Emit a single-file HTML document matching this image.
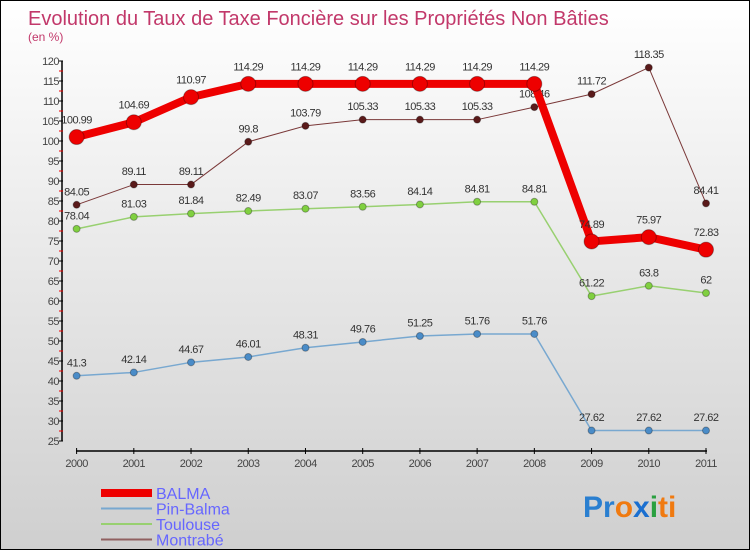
<!DOCTYPE html>
<html><head><meta charset="utf-8"><style>
body{margin:0;}
#c{width:750px;height:550px;position:relative;overflow:hidden;box-sizing:border-box;border:1px solid #000;background:linear-gradient(#ffffff,#cfcfcf);font-family:"Liberation Sans",sans-serif;}
</style></head><body>
<div id="c">
<svg id="s" width="750" height="550" style="position:absolute;left:0;top:0">
<text x="27" y="24" font-size="20" fill="#c2386a">Evolution du Taux de Taxe Foncière sur les Propriétés Non Bâties</text>
<text x="27" y="40" font-size="12" fill="#c2386a">(en %)</text>
<g id="ax"></g><g id="series"></g><g id="legend"></g>
<text x="582" y="516" font-size="30" font-weight="bold"><tspan fill="#2a7fd0">Pr</tspan><tspan fill="#f07a10">o</tspan><tspan fill="#1a6fd0">x</tspan><tspan fill="#2aa040">i</tspan><tspan fill="#f07a10">ti</tspan></text>
</svg>
</div>
<script>
const years=["2000","2001","2002","2003","2004","2005","2006","2007","2008","2009","2010","2011"];
const yTicks=[25,30,35,40,45,50,55,60,65,70,75,80,85,90,95,100,105,110,115,120];
const balma=[100.99,104.69,110.97,114.29,114.29,114.29,114.29,114.29,114.29,74.89,75.97,72.83];
const pinBalma=[41.3,42.14,44.67,46.01,48.31,49.76,51.25,51.76,51.76,27.62,27.62,27.62];
const toulouse=[78.04,81.03,81.84,82.49,83.07,83.56,84.14,84.81,84.81,61.22,63.8,62];
const montrabe=[84.05,89.11,89.11,99.8,103.79,105.33,105.33,105.33,108.46,111.72,118.35,84.41];
const NS="http://www.w3.org/2000/svg";
const X=i=>75.6+i*(705-75.6)/11;
const Y=v=>440-(v-25)*4;
function mk(p,t,a){const e=document.createElementNS(NS,t);for(const k in a)e.setAttribute(k,a[k]);p.appendChild(e);return e;}
const ax=document.getElementById('ax');
let yl=mk(ax,'line',{x1:61,y1:Y(120),x2:61,y2:Y(25),stroke:'#000','stroke-width':1.5});


yTicks.forEach(v=>{
 mk(ax,'line',{x1:58,y1:Y(v),x2:62,y2:Y(v),stroke:'#000'});
 if(v<120)mk(ax,'line',{x1:58,y1:Y(v+2.5),x2:62,y2:Y(v+2.5),stroke:'#e00'});
 const t=mk(ax,'text',{x:58,y:Y(v)+4,'font-size':11,fill:'#444','text-anchor':'end','letter-spacing':'-0.5'});
 t.textContent=v;
 
 
});
let xl=mk(ax,'line',{x1:75,y1:450,x2:706,y2:450,stroke:'#000','stroke-width':1.5});


years.forEach((y,i)=>{
 mk(ax,'line',{x1:X(i),y1:447,x2:X(i),y2:453,stroke:'#000'});
 const t=mk(ax,'text',{x:X(i),y:466,'font-size':11,fill:'#444','text-anchor':'middle','letter-spacing':'-0.5'});
 t.textContent=y;
 
 
});
const S=[
 {n:'montrabe',d:montrabe,c:'#7a3838',dot:'#5a1a1a',w:1,r:3.5},
 {n:'toulouse',d:toulouse,c:'#98d070',dot:'#80d040',w:1.5,r:3.5},
 {n:'pin-balma',d:pinBalma,c:'#78a8d0',dot:'#4a8cc8',w:1.5,r:3.5},
 {n:'balma',d:balma,c:'#ee0000',dot:'#ee0000',w:8,r:7.5}
];
const sg=document.getElementById('series');
S.forEach(s=>{
 const g=mk(sg,'g',{});
 
 
 const pl=mk(g,'polyline',{points:s.d.map((v,i)=>X(i)+','+Y(v)).join(' '),fill:'none',stroke:s.c,'stroke-width':s.w,'stroke-linejoin':'round'});
 
 
 s.d.forEach((v,i)=>{
  const c=mk(g,'circle',{cx:X(i),cy:Y(v),r:s.r,fill:s.dot,stroke:'rgba(0,0,0,0.3)'});
  
  
  const t=mk(g,'text',{x:X(i),y:Y(v)-(s.r+6),'font-size':11,fill:'#333','text-anchor':'middle','letter-spacing':'-0.5'});
  t.textContent=v;
  
  
 });
});
const lg=document.getElementById('legend');
[['BALMA','#ee0000',8],['Pin-Balma','#78a8d0',2],['Toulouse','#98d070',2],['Montrabé','#906060',2]].forEach((e,i)=>{
 const y=492+i*15.5;
 const g=mk(lg,'g',{});
 
 
 mk(g,'line',{x1:100,y1:y,x2:151,y2:y,stroke:e[1],'stroke-width':e[2]});
 const t=mk(g,'text',{x:155,y:y+6,'font-size':16,fill:'#6666ff'});
 t.textContent=e[0];
});
</script>
</body></html>
